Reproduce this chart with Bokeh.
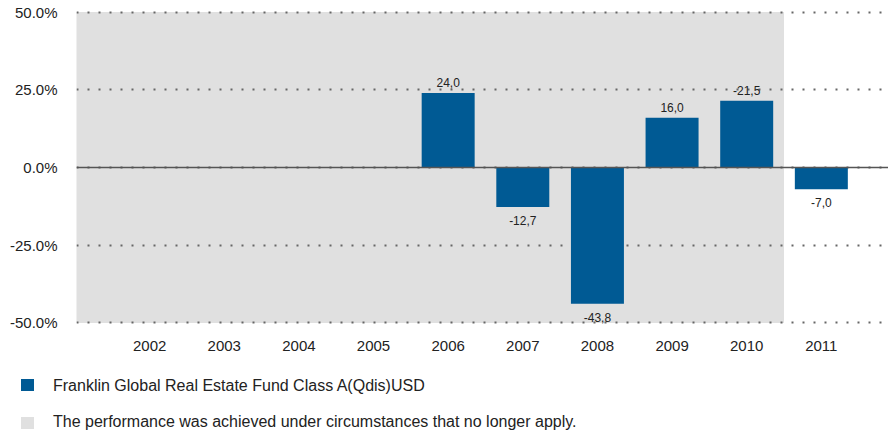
from bokeh.plotting import figure
from bokeh.layouts import column
from bokeh.models import (Range1d, FixedTicker, PrintfTickFormatter, Span,
                          ColumnDataSource, Div)
from bokeh.core.properties import value
from bokeh.embed import file_html
from bokeh.resources import INLINE

# ---- data ----
years = ["2002", "2003", "2004", "2005", "2006", "2007", "2008", "2009", "2010", "2011"]
bar_years = ["2006", "2007", "2008", "2009", "2010", "2011"]
returns = [24.0, -12.7, -43.8, 16.0, 21.5, -7.0]
bar_labels = ["24,0", "-12,7", "-43,8", "16,0", "-21,5", "-7,0"]
y_ticks = [-50, -25, 0, 25, 50]
last_shaded_year = "2010"
fund_name = "Franklin Global Real Estate Fund Class A(Qdis)USD"
shade_note = "The performance was achieved under circumstances that no longer apply."

BLUE = "#005A94"
GRAY = "#E0E0E0"
FONT = "Liberation Sans"
TXT = "#222222"

xs = [years.index(y) for y in bar_years]
src = ColumnDataSource(dict(
    x=xs, top=returns, text=bar_labels,
    baseline=["bottom" if v >= 0 else "top" for v in returns],
    yoff=[-6 if v >= 0 else 9 for v in returns],
))

p = figure(width=888, height=355, output_backend="svg", toolbar_location=None,
           x_range=Range1d(-0.98, 9.9), y_range=Range1d(-50.5, 50.5),
           min_border_left=76, min_border_right=0, min_border_top=10,
           min_border_bottom=31)
p.outline_line_color = None
p.background_fill_color = "white"
p.border_fill_color = "white"

# shaded period
p.quad(left=[-1.5], right=[years.index(last_shaded_year) + 0.5],
       bottom=[y_ticks[0]], top=[y_ticks[-1]],
       fill_color=GRAY, line_color=None, level="image")

p.vbar(x="x", top="top", bottom=0, width=0.71, source=src,
       fill_color=BLUE, line_color=None)

p.text(x="x", y="top", text="text", source=src, text_align="center",
       text_baseline="baseline", y_offset="yoff",
       text_font=value(FONT), text_font_size="12px", text_color=TXT)

p.add_layout(Span(location=0, dimension="width", line_color="#555555",
                  line_width=1.5))

# grid
p.xgrid.visible = False
p.ygrid.ticker = FixedTicker(ticks=y_ticks)
p.ygrid.grid_line_color = "#666666"
p.ygrid.grid_line_dash = "2 9"
p.ygrid.grid_line_width = 2

# axes
p.yaxis.ticker = FixedTicker(ticks=y_ticks)
p.yaxis.formatter = PrintfTickFormatter(format="%.1f%%")
p.xaxis.ticker = FixedTicker(ticks=list(range(len(years))))
p.xaxis.major_label_overrides = {i: y for i, y in enumerate(years)}
for ax in (p.xaxis, p.yaxis):
    ax.axis_line_color = None
    ax.major_tick_line_color = None
    ax.minor_tick_line_color = None
    ax.major_tick_out = 0
    ax.major_tick_in = 0
    ax.minor_tick_out = 0
    ax.major_label_text_font = FONT
    ax.major_label_text_font_size = "15px"
    ax.major_label_text_color = TXT
p.yaxis.major_label_standoff = 19
p.xaxis.major_label_standoff = 16

# ---- legend strip (HTML) ----
def legend_row(color, label, sq_top, txt_top):
    return (
        f'<div style="position:absolute;left:21px;top:{sq_top}px;width:13px;'
        f'height:12px;background:{color};"></div>'
        f'<div style="position:absolute;left:53px;top:{txt_top}px;height:20px;'
        f'line-height:20px;white-space:nowrap;">{label}</div>'
    )

html = (
    f'<div style="position:relative;width:888px;height:77px;margin:0;padding:0;'
    f"font-family:'{FONT}';font-size:16px;color:{TXT};\">"
    + legend_row(BLUE, fund_name, 24, 21)
    + legend_row(GRAY, shade_note, 62, 57)
    + '</div>'
)
lg = Div(text=html, width=888, height=77, margin=0)

open("out.html", "w").write(file_html(column(p, lg), INLINE))
